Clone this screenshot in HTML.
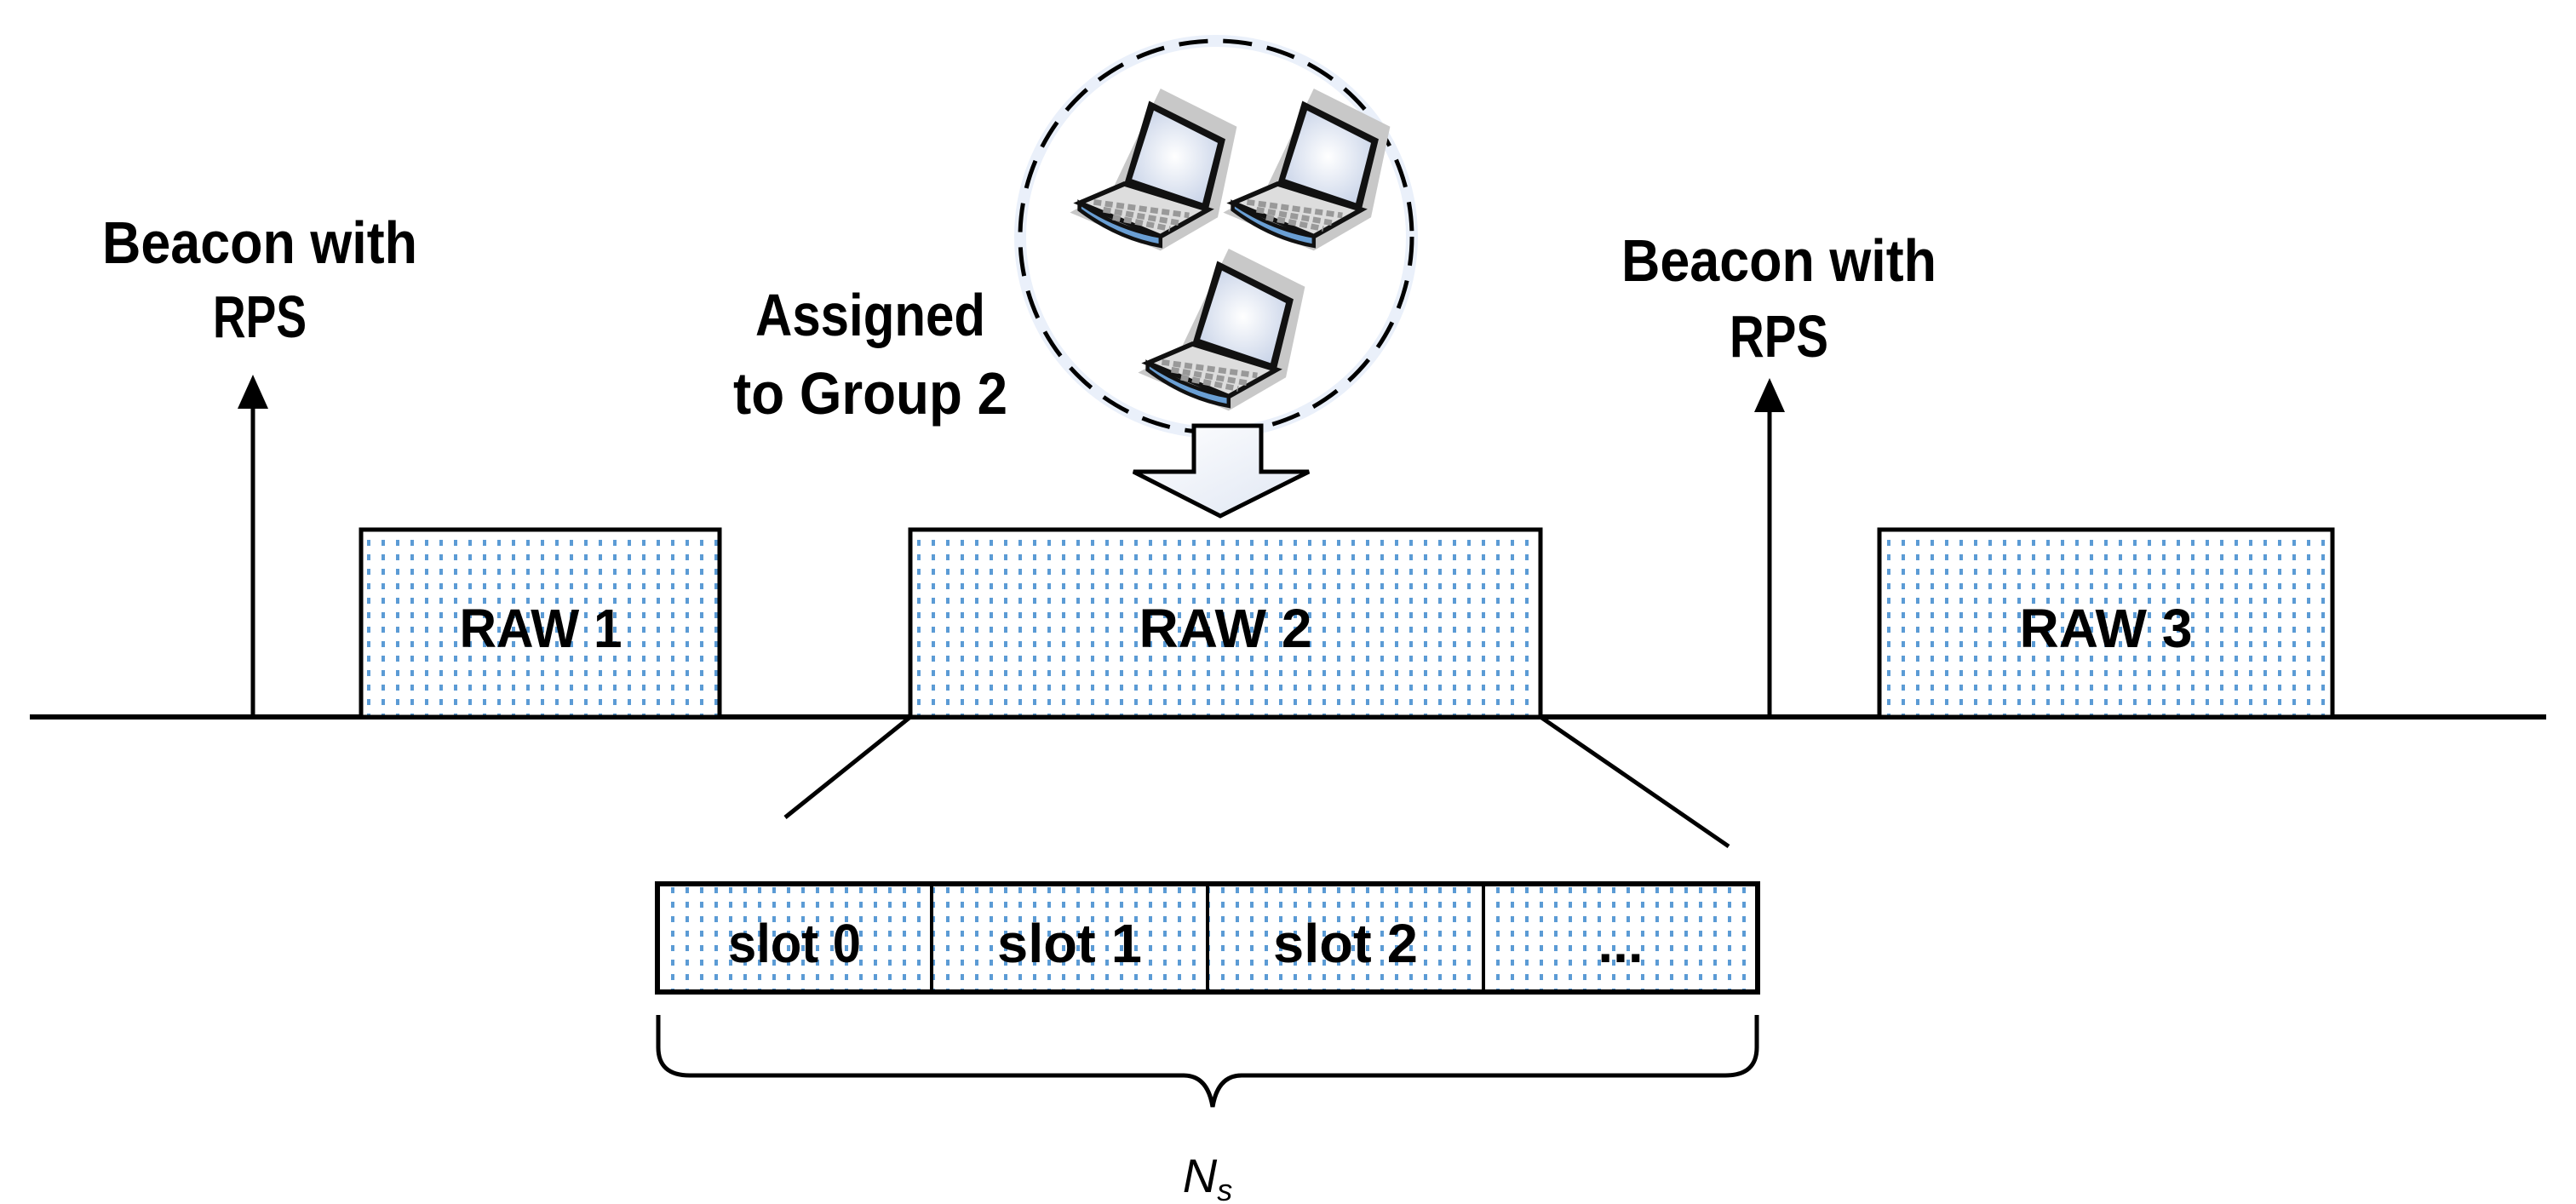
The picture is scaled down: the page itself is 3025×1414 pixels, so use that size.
<!DOCTYPE html>
<html><head><meta charset="utf-8"><style>html,body{margin:0;padding:0;background:#fff}svg{display:block}</style></head><body>
<svg width="3025" height="1414" viewBox="0 0 3025 1414" xmlns="http://www.w3.org/2000/svg" font-family="'Liberation Sans', sans-serif">
<defs>
<pattern id="dots" width="17" height="17" patternUnits="userSpaceOnUse"><rect width="17" height="17" fill="#fff"/><rect x="6" y="5" width="4" height="7" fill="#5b9bd5"/></pattern>
<radialGradient id="scr" cx="0.5" cy="0.5" r="0.6"><stop offset="0" stop-color="#fff"/><stop offset="1" stop-color="#c8d3e8"/></radialGradient>
<linearGradient id="ba" x1="0" y1="0" x2="1" y2="1"><stop offset="0" stop-color="#fff"/><stop offset="1" stop-color="#dfe6f3"/></linearGradient>
<g id="lap">
<path d="M-10,30 L40,-75 L120,-35 L100,60 L40,95 L-55,55 Z" fill="#c8c8c8"/>
<path d="M2,25 L28,-62 L108,-22 L90,52 Z" fill="#111"/>
<path d="M10,20 L33,-52 L100,-18 L84,45 Z" fill="url(#scr)"/>
<path d="M-45,45 L2,25 L90,52 L40,80 Z" fill="#ddd" stroke="#111" stroke-width="5"/>
<path d="M-45,45 Q-5,72 40,80 L40,90 Q-5,82 -45,52 Z" fill="#6a9fd4" stroke="#111" stroke-width="4"/>
<g stroke="#999" stroke-width="6" stroke-dasharray="8 4"><path d="M-30,44 L70,58"/><path d="M-20,52 L60,66"/><path d="M-10,60 L50,72"/></g>
</g>
</defs>

<line x1="35" y1="842" x2="2990" y2="842" stroke="#000" stroke-width="6"/>

<line x1="297" y1="842" x2="297" y2="480" stroke="#000" stroke-width="5"/>
<polygon points="297,440 279,480 315,480" fill="#000"/>
<line x1="2078" y1="842" x2="2078" y2="484" stroke="#000" stroke-width="5"/>
<polygon points="2078,444 2060,484 2096,484" fill="#000"/>

<g font-weight="bold" font-size="70" text-anchor="middle" fill="#000">
<text x="305" y="309" textLength="370" lengthAdjust="spacingAndGlyphs">Beacon with</text>
<text x="305" y="396" textLength="110" lengthAdjust="spacingAndGlyphs">RPS</text>
<text x="2089" y="330" textLength="370" lengthAdjust="spacingAndGlyphs">Beacon with</text>
<text x="2089" y="419" textLength="116" lengthAdjust="spacingAndGlyphs">RPS</text>
<text x="1022" y="394" textLength="270" lengthAdjust="spacingAndGlyphs">Assigned</text>
<text x="1022" y="486" textLength="322" lengthAdjust="spacingAndGlyphs">to Group 2</text>
</g>

<rect x="424" y="622" width="421" height="220" fill="url(#dots)" stroke="#000" stroke-width="5"/>
<rect x="1069" y="622" width="740" height="220" fill="url(#dots)" stroke="#000" stroke-width="5"/>
<rect x="2207" y="622" width="532" height="220" fill="url(#dots)" stroke="#000" stroke-width="5"/>
<g font-weight="bold" font-size="64" text-anchor="middle">
<text x="635" y="760" textLength="191" lengthAdjust="spacingAndGlyphs">RAW 1</text>
<text x="1439" y="760" textLength="203" lengthAdjust="spacingAndGlyphs">RAW 2</text>
<text x="2473" y="760" textLength="203" lengthAdjust="spacingAndGlyphs">RAW 3</text>
</g>

<circle cx="1428" cy="278" r="230" fill="#fff" stroke="#eaf0fa" stroke-width="14"/>
<circle cx="1428" cy="278" r="230" fill="none" stroke="#000" stroke-width="5" stroke-dasharray="34 18"/>
<use href="#lap" transform="translate(1318,188) scale(1.12)"/>
<use href="#lap" transform="translate(1498,188) scale(1.12)"/>
<use href="#lap" transform="translate(1398,376) scale(1.12)"/>

<polygon points="1402,500 1481,500 1481,554 1537,554 1433,606 1331,554 1402,554" fill="url(#ba)" stroke="#000" stroke-width="5"/>

<line x1="1069" y1="842" x2="922" y2="960" stroke="#000" stroke-width="5"/>
<line x1="1809" y1="842" x2="2030" y2="994" stroke="#000" stroke-width="5"/>

<rect x="772" y="1038" width="1292" height="127" fill="url(#dots)" stroke="#000" stroke-width="6"/>
<g stroke="#000" stroke-width="4">
<line x1="1094" y1="1038" x2="1094" y2="1165"/>
<line x1="1418" y1="1038" x2="1418" y2="1165"/>
<line x1="1742" y1="1038" x2="1742" y2="1165"/>
</g>
<g font-weight="bold" font-size="64" text-anchor="middle">
<text x="933" y="1130" textLength="156" lengthAdjust="spacingAndGlyphs">slot 0</text>
<text x="1256" y="1130" textLength="170" lengthAdjust="spacingAndGlyphs">slot 1</text>
<text x="1580" y="1130" textLength="170" lengthAdjust="spacingAndGlyphs">slot 2</text>
<text x="1903" y="1130">...</text>
</g>

<path d="M773,1192 L773,1230 Q773,1263 810,1263 L1390,1263 Q1418,1263 1424,1300 Q1430,1263 1458,1263 L2026,1263 Q2063,1263 2063,1230 L2063,1192" fill="none" stroke="#000" stroke-width="5"/>
<text x="1418" y="1400" font-size="56" font-style="italic" text-anchor="middle">N<tspan font-size="36" dy="10">s</tspan></text>
</svg>
</body></html>
